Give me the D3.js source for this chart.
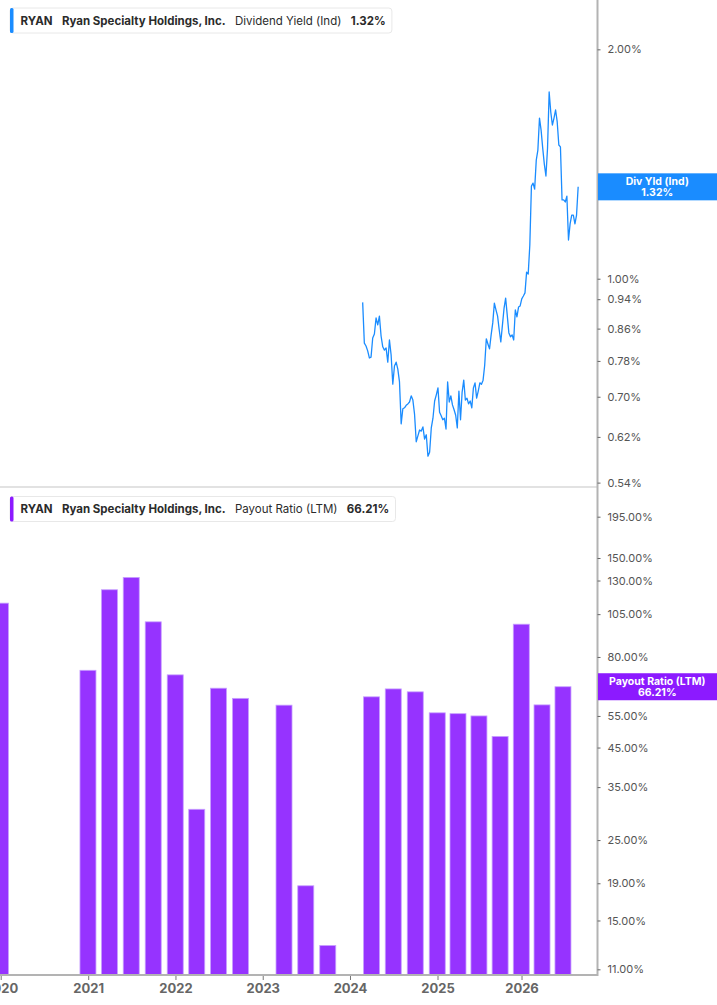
<!DOCTYPE html>
<html>
<head>
<meta charset="utf-8">
<script src="https://cdn.jsdelivr.net/npm/d3@7/dist/d3.min.js"></script>
<style>
body { margin: 0; background: #fff; }
svg text { font-family: Inter, "Noto Sans", sans-serif; }
</style>
</head>
<body>
<div id="chart"></div>
<script>
const container_id = 'chart';
const width = 717, height = 1005;
const plot_right = 597.5;
const top_panel = {top: 0, bottom: 487};
const bottom_panel = {top: 489, bottom: 975};

const ticker = 'RYAN';
const company = 'Ryan Specialty Holdings, Inc.';

// dividend yield (indicated), %, weekly
const yield_dates = [
  '2024-02-23','2024-03-01','2024-03-08','2024-03-15','2024-03-22','2024-03-29','2024-04-05','2024-04-12','2024-04-19','2024-04-26',
  '2024-05-03','2024-05-10','2024-05-17','2024-05-24','2024-05-31','2024-06-07','2024-06-14','2024-06-21','2024-06-28','2024-07-05',
  '2024-07-12','2024-07-19','2024-07-26','2024-08-02','2024-08-09','2024-08-16','2024-08-23','2024-08-30','2024-09-06','2024-09-13',
  '2024-09-20','2024-09-27','2024-10-04','2024-10-11','2024-10-18','2024-10-25','2024-11-01','2024-11-08','2024-11-15','2024-11-22',
  '2024-11-29','2024-12-06','2024-12-13','2024-12-20','2024-12-27',
  '2025-01-03','2025-01-10','2025-01-17','2025-01-24','2025-01-31','2025-02-07','2025-02-14','2025-02-21','2025-02-28','2025-03-07',
  '2025-03-14','2025-03-21','2025-03-28','2025-04-04','2025-04-11','2025-04-18','2025-04-25','2025-05-02','2025-05-09','2025-05-16',
  '2025-05-23','2025-05-30','2025-06-06','2025-06-13','2025-06-20','2025-06-27','2025-07-04','2025-07-11','2025-07-18','2025-07-25',
  '2025-08-01','2025-08-08','2025-08-15','2025-08-22','2025-08-29','2025-09-05','2025-09-12','2025-09-19','2025-09-26','2025-10-03',
  '2025-10-10','2025-10-17','2025-10-24','2025-10-31','2025-11-07','2025-11-14','2025-11-21','2025-11-28','2025-12-05','2025-12-12',
  '2025-12-19','2025-12-26',
  '2026-01-02','2026-01-09','2026-01-16','2026-01-23','2026-01-30','2026-02-06','2026-02-13','2026-02-20','2026-02-27','2026-03-06',
  '2026-03-13','2026-03-20','2026-03-27','2026-04-03','2026-04-10','2026-04-17','2026-04-24','2026-05-01','2026-05-08','2026-05-15',
  '2026-05-22','2026-05-29','2026-06-05','2026-06-12','2026-06-19','2026-06-26','2026-07-03','2026-07-10','2026-07-17','2026-07-24',
  '2026-07-31','2026-08-07','2026-08-14','2026-08-21','2026-08-28','2026-09-04'
];
const yield_values = [
  0.931, 0.823, 0.816, 0.804, 0.787, 0.789, 0.836, 0.846, 0.888, 0.870,
  0.893, 0.841, 0.814, 0.806, 0.811, 0.777, 0.831, 0.794, 0.727, 0.768,
  0.777, 0.761, 0.732, 0.645, 0.675, 0.677, 0.682, 0.685, 0.689, 0.702,
  0.693, 0.664, 0.611, 0.622, 0.633, 0.631, 0.639, 0.616, 0.624, 0.585,
  0.592, 0.637, 0.656, 0.691, 0.704,
  0.719, 0.668, 0.661, 0.653, 0.656, 0.635, 0.732, 0.689, 0.702, 0.683,
  0.673, 0.662, 0.637, 0.712, 0.653, 0.710, 0.736, 0.693, 0.697, 0.685,
  0.691, 0.677, 0.719, 0.730, 0.697, 0.712, 0.730, 0.727, 0.736, 0.770,
  0.834, 0.821, 0.809, 0.844, 0.875, 0.929, 0.910, 0.893, 0.857, 0.826,
  0.869, 0.914, 0.943, 0.895, 0.849, 0.839, 0.844, 0.831, 0.910, 0.891,
  0.918, 0.921,
  0.941, 0.949, 0.958, 1.020, 1.014, 1.107, 1.323, 1.335, 1.311, 1.431,
  1.475, 1.625, 1.567, 1.484, 1.414, 1.364, 1.484, 1.758, 1.655, 1.591,
  1.625, 1.665, 1.606, 1.498, 1.489, 1.269, 1.269, 1.261, 1.283, 1.124,
  1.180, 1.212, 1.212, 1.180, 1.212, 1.32
];

// payout ratio (LTM), %, quarterly
const payout_dates = [
  '2019-12-31','2020-12-31','2021-03-31','2021-06-30','2021-09-30','2021-12-31','2022-03-31','2022-06-30','2022-09-30',
  '2023-03-31','2023-06-30','2023-09-30','2024-03-31','2024-06-30','2024-09-30','2024-12-31','2025-03-31','2025-06-30',
  '2025-09-30','2025-12-31','2026-03-31','2026-06-30'
];
const payout_values = [
  112.6, 73.5, 122.6, 132.6, 100.0, 71.4, 30.4, 65.6, 61.5,
  58.9, 18.7, 12.8, 62.1, 65.3, 64.1, 56.1, 55.8, 55.0,
  48.3, 98.5, 59.0, 66.21
];

const yield_ticks = [2.00, 1.00, 0.94, 0.86, 0.78, 0.70, 0.62, 0.54];
const payout_ticks = [195, 150, 130, 105, 80, 55, 45, 35, 25, 19, 15, 11];
const year_ticks = ['2020', '2021', '2022', '2023', '2024', '2025', '2026'];

const parse = d3.utcParse('%Y-%m-%d');
const blue = '#1a8cff', purple = '#9633ff';

// the time axis runs slightly tighter after 2025 in the reference
const xScale = d3.scaleUtc()
    .domain([parse('2020-01-01'), parse('2025-01-01'), parse('2026-11-27')])
    .range([0.7, 437.5, plot_right]);
const yYield = d3.scaleLog().domain([0.5329, 2.3215]).range([top_panel.bottom, top_panel.top]);
const yPayout = d3.scaleLog().domain([10.61, 232.5]).range([bottom_panel.bottom, bottom_panel.top]);

function drawLegend(svg, y, color, series, value) {
    let g = svg.append('g').attr('transform', 'translate(10,' + y + ')');
    let box = g.append('rect')
        .attr('x', 0).attr('y', 0).attr('height', 25).attr('rx', 3)
        .attr('fill', '#fff').attr('stroke', '#e8e8e8');
    g.append('rect').attr('x', 0).attr('y', 0).attr('width', 3.5).attr('height', 25).attr('rx', 1.5).attr('fill', color);
    const parts = [
        {t: ticker, w: 700}, {t: company, w: 700}, {t: series, w: 400}, {t: value, w: 700}
    ];
    let x = 10.5;
    parts.forEach(function(p) {
        let t = g.append('text')
            .attr('x', x).attr('y', 16.8)
            .attr('font-size', '11.5px').attr('font-weight', p.w)
            .attr('fill', '#2b2b2b').text(p.t);
        x += t.node().getComputedTextLength() + 9.3;
    });
    box.attr('width', x - 3);
}

function drawRightAxis(svg, scale, ticks) {
    let ax = svg.append('g')
        .attr('transform', 'translate(' + plot_right + ',0)')
        .call(d3.axisRight(scale).tickValues(ticks).tickFormat(d => d.toFixed(2) + '%').tickSize(3).tickPadding(7));
    ax.select('.domain').remove();
    ax.selectAll('line').attr('stroke', '#666');
    ax.selectAll('text').attr('font-size', '11px').attr('fill', '#555').attr('font-family', 'Inter, sans-serif');
}

function drawValueBox(svg, y, color, line1, line2) {
    svg.append('rect')
        .attr('x', plot_right + 0.5).attr('y', y - 13.5)
        .attr('width', width - plot_right).attr('height', 27)
        .attr('fill', color);
    const cx = (plot_right + width) / 2;
    [line1, line2].forEach(function(s, i) {
        svg.append('text')
            .attr('x', cx).attr('y', y - 1.8 + i * 11)
            .attr('text-anchor', 'middle')
            .attr('font-size', '10.5px').attr('font-weight', 700)
            .attr('fill', '#fff').text(s);
    });
}

function drawChart() {
    let svg = d3.select('#' + container_id)
        .append('svg')
        .attr('width', width)
        .attr('height', height);

    svg.append('clipPath').attr('id', 'plot-clip')
        .append('rect').attr('x', 0).attr('y', 0).attr('width', plot_right).attr('height', bottom_panel.bottom);

    // top panel: dividend yield line
    const line = d3.line()
        .x((d, i) => xScale(parse(yield_dates[i])))
        .y(d => yYield(d));
    svg.append('path')
        .datum(yield_values)
        .attr('clip-path', 'url(#plot-clip)')
        .attr('fill', 'none')
        .attr('stroke', blue)
        .attr('stroke-width', 1.3)
        .attr('stroke-linejoin', 'round')
        .attr('d', line);

    // panel separator
    svg.append('line')
        .attr('x1', 0).attr('x2', plot_right)
        .attr('y1', top_panel.bottom).attr('y2', top_panel.bottom)
        .attr('stroke', '#e2e2e2').attr('stroke-width', 2);

    // bottom panel: payout ratio bars
    svg.append('g')
        .attr('clip-path', 'url(#plot-clip)')
        .selectAll('rect')
        .data(payout_values)
        .enter()
        .append('rect')
        .attr('x', (d, i) => xScale(parse(payout_dates[i])) - 8)
        .attr('width', 16)
        .attr('y', d => yPayout(d))
        .attr('height', d => bottom_panel.bottom - yPayout(d))
        .attr('fill', purple)
        .attr('stroke', '#c7a0ff')
        .attr('stroke-width', 0.8);

    // x axis
    let xa = svg.append('g')
        .attr('transform', 'translate(0,' + bottom_panel.bottom + ')')
        .call(d3.axisBottom(xScale)
            .tickValues(year_ticks.map(y => parse(y + '-01-01')))
            .tickFormat(d3.utcFormat('%Y'))
            .tickSize(5).tickPadding(4));
    xa.select('.domain').remove();
    xa.selectAll('line').attr('stroke', '#777');
    xa.selectAll('text').attr('font-size', '13px').attr('font-weight', 700).attr('fill', '#666').attr('font-family', 'Inter, sans-serif');

    // axis frame
    svg.append('path')
        .attr('d', 'M' + plot_right + ',0V' + bottom_panel.bottom + 'H0')
        .attr('fill', 'none')
        .attr('stroke', '#b3b3b3')
        .attr('stroke-width', 2);

    drawRightAxis(svg, yYield, yield_ticks);
    drawRightAxis(svg, yPayout, payout_ticks);

    const last_yield = yield_values[yield_values.length - 1];
    const last_payout = payout_values[payout_values.length - 1];
    drawValueBox(svg, yYield(last_yield), blue, 'Div Yld (Ind)', last_yield.toFixed(2) + '%');
    drawValueBox(svg, yPayout(last_payout), '#8c1aff', 'Payout Ratio (LTM)', last_payout.toFixed(2) + '%');

    drawLegend(svg, 8, blue, 'Dividend Yield (Ind)', last_yield.toFixed(2) + '%');
    drawLegend(svg, 496.5, '#8c1aff', 'Payout Ratio (LTM)', last_payout.toFixed(2) + '%');
}

drawChart();
</script>
</body>
</html>
